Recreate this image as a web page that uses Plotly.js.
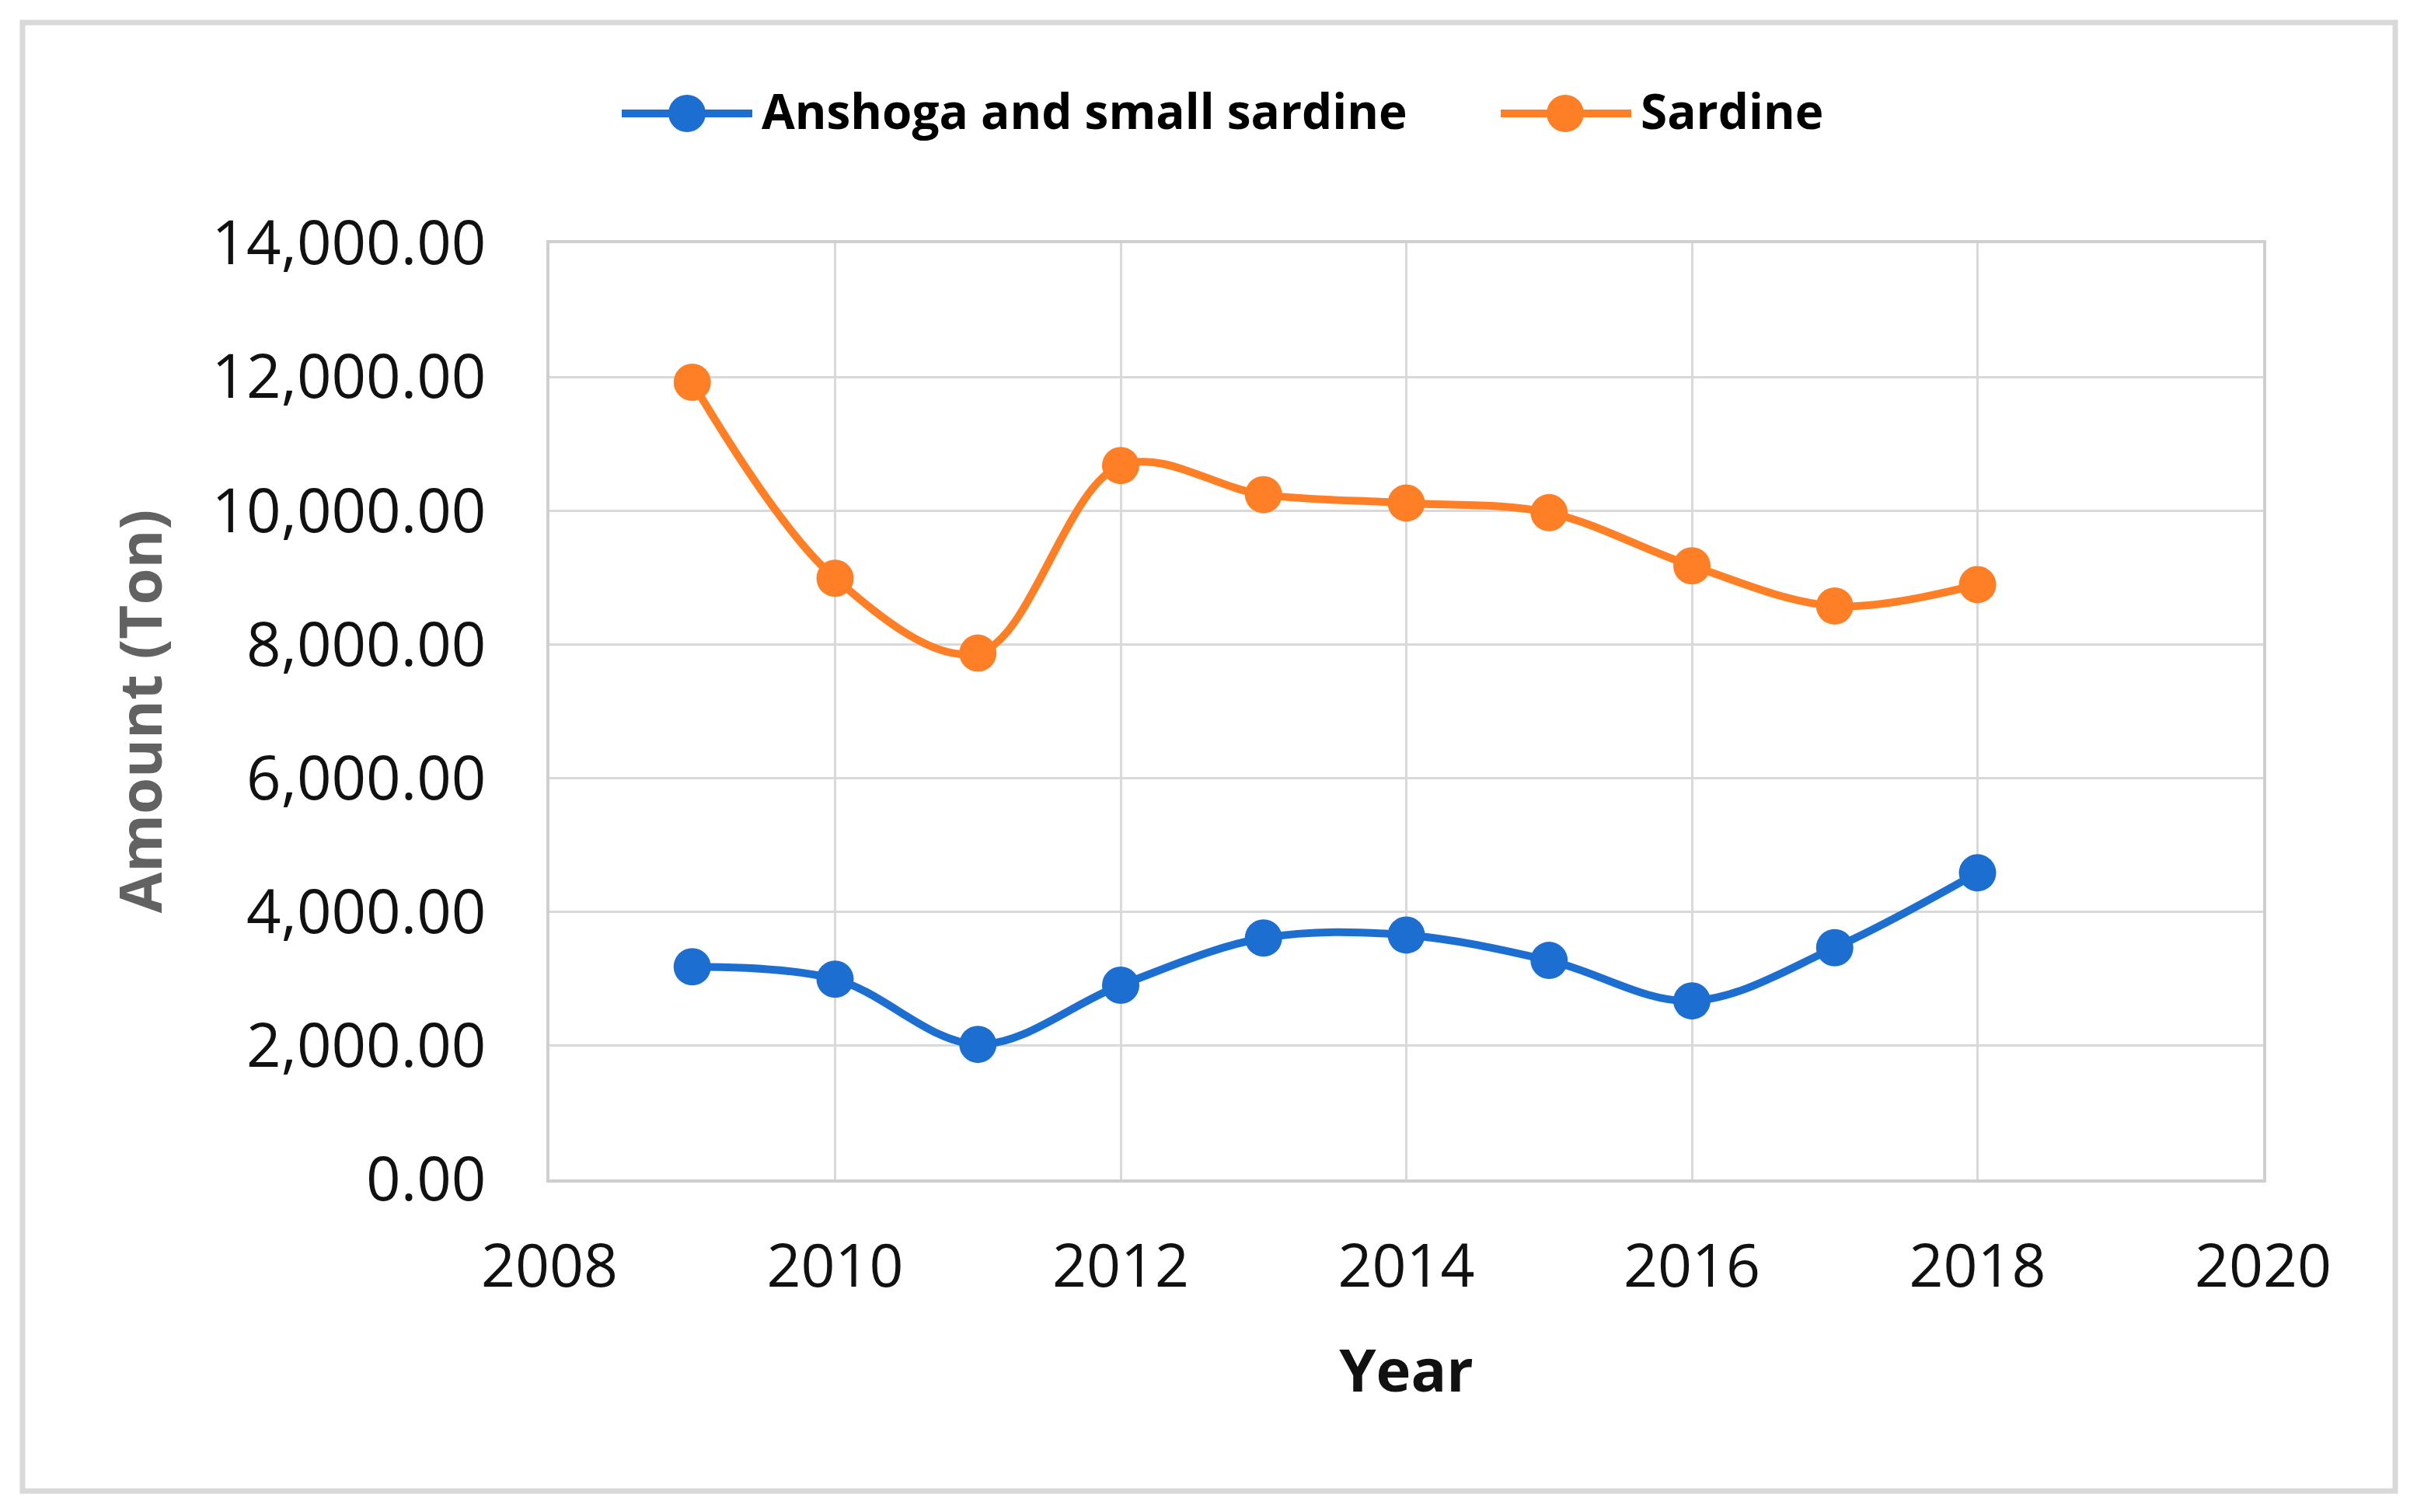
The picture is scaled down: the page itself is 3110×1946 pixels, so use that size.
<!DOCTYPE html>
<html>
<head>
<meta charset="utf-8">
<script src="https://cdn.plot.ly/plotly-3.0.1.min.js"></script>
<style>
  html, body { margin: 0; padding: 0; background: #ffffff; }
  #chart { width: 3110px; height: 1946px; }
</style>
</head>
<body>
<div id="chart"></div>
<script>
// ---- Data ----
const years = [2009, 2010, 2011, 2012, 2013, 2014, 2015, 2016, 2017, 2018];
const anshogaSmallSardine = [3180, 2995, 2020, 2905, 3610, 3655, 3275, 2670, 3465, 4585];
const sardine = [11920, 8990, 7870, 10675, 10240, 10115, 9970, 9175, 8575, 8895];
const seriesNames = ["Anshoga and small sardine", "Sardine"];
const xTickVals = [2008, 2010, 2012, 2014, 2016, 2018, 2020];
const yTickVals = [0, 2000, 4000, 6000, 8000, 10000, 12000, 14000];
const xTitle = "Year";
const yTitle = "Amount (Ton)";

// ---- Styling ----
const W = 3110, H = 1946;
const plotL = 707, plotR = 2912, plotT = 313, plotB = 1518;
const blue = "#1c6fd0";
const orange = "#ff7f27";
const gridColor = "#d9d9d9";
const FONT = "Open Sans, DejaVu Sans, sans-serif";
const LW = 10, MS = 48;

const px = x => (x - plotL) / (plotR - plotL);
const py = y => (plotB - y) / (plotB - plotT);

const traces = [
  {
    x: years, y: anshogaSmallSardine, name: seriesNames[0],
    type: "scatter", mode: "lines+markers",
    line: { color: blue, width: LW, shape: "spline", smoothing: 1 },
    marker: { color: blue, size: MS },
    cliponaxis: false
  },
  {
    x: years, y: sardine, name: seriesNames[1],
    type: "scatter", mode: "lines+markers",
    line: { color: orange, width: LW, shape: "spline", smoothing: 1 },
    marker: { color: orange, size: MS },
    cliponaxis: false
  }
];

// custom legend (line + circle + label), matching Excel-style large symbols
const legendItems = [
  { color: blue, x0: 800, x1: 968, cx: 884, tx: 978, label: seriesNames[0] },
  { color: orange, x0: 1931, x1: 2099, cx: 2014, tx: 2109, label: seriesNames[1] }
];
const legY = 146, mr = 24;
const shapes = [
  { type: "rect", xref: "paper", yref: "paper",
    x0: px(29), x1: px(3082), y0: py(29), y1: py(1919),
    line: { color: "#d9d9d9", width: 7 }, fillcolor: "rgba(0,0,0,0)", layer: "below" }
];
const annotations = [];
legendItems.forEach(it => {
  shapes.push({ type: "line", xref: "paper", yref: "paper",
    x0: px(it.x0), x1: px(it.x1), y0: py(legY), y1: py(legY),
    line: { color: it.color, width: LW } });
  shapes.push({ type: "circle", xref: "paper", yref: "paper",
    x0: px(it.cx - mr), x1: px(it.cx + mr), y0: py(legY - mr), y1: py(legY + mr),
    fillcolor: it.color, line: { color: it.color, width: 0 } });
  annotations.push({ xref: "paper", yref: "paper", x: px(it.tx), y: py(legY - 4),
    xanchor: "left", yanchor: "middle", showarrow: false, text: "<b>" + it.label + "</b>",
    font: { family: FONT, size: 62, color: "#000000" } });
});

const layout = {
  width: W, height: H,
  paper_bgcolor: "#ffffff", plot_bgcolor: "#ffffff",
  margin: { l: plotL, r: W - plotR, t: plotT, b: H - plotB, pad: 0 },
  showlegend: false,
  font: { family: FONT, color: "#111111" },
  xaxis: {
    range: [2008, 2020], tickvals: xTickVals, tickformat: "d",
    showgrid: true, gridcolor: gridColor, gridwidth: 3,
    zeroline: false, showline: true, linecolor: "#cfcfcf", linewidth: 4, mirror: true,
    ticks: "", ticklabelstandoff: 42,
    tickfont: { family: FONT, size: 77, color: "#111111" },
    title: { text: "<b>" + xTitle + "</b>", standoff: 60,
      font: { family: FONT, size: 76, color: "#111111" } },
    automargin: false
  },
  yaxis: {
    range: [0, 14000], tickvals: yTickVals, tickformat: ",.2f",
    showgrid: true, gridcolor: gridColor, gridwidth: 3,
    zeroline: false, showline: true, linecolor: "#cfcfcf", linewidth: 4, mirror: true,
    ticks: "", ticklabelstandoff: 62,
    tickfont: { family: FONT, size: 78, color: "#111111" },
    title: { text: "<b>" + yTitle + "</b>", standoff: 40,
      font: { family: FONT, size: 76, color: "#626262" } },
    automargin: false
  },
  shapes: shapes,
  annotations: annotations
};

Plotly.newPlot("chart", traces, layout, { displayModeBar: false, staticPlot: true });
</script>
</body>
</html>
